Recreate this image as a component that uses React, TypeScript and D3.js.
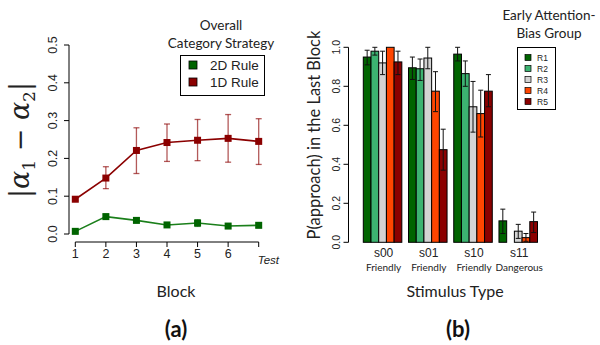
import React from "react";
import * as d3 from "d3";

const blocks = ["1", "2", "3", "4", "5", "6", "Test"];
const rule2D = [0.007, 0.046, 0.036, 0.024, 0.029, 0.021, 0.023];
const rule2DLo = [0.003, 0.04, 0.031, 0.019, 0.02, 0.016, 0.017];
const rule2DHi = [0.011, 0.052, 0.041, 0.029, 0.038, 0.026, 0.029];
const rule1D = [0.092, 0.148, 0.221, 0.242, 0.248, 0.253, 0.245];
const rule1DLo = [0.088, 0.12, 0.16, 0.192, 0.194, 0.19, 0.184];
const rule1DHi = [0.096, 0.178, 0.281, 0.291, 0.303, 0.316, 0.305];
const leftTicks = [0, 0.1, 0.2, 0.3, 0.4, 0.5];

const stimuli = ["s00", "s01", "s10", "s11"];
const stimLabels = ["Friendly", "Friendly", "Friendly", "Dangerous"];
const groups = ["R1", "R2", "R3", "R4", "R5"];
const groupColors = ["#006400", "#3cb371", "#d3d3d3", "#ff4500", "#8b0000"];
const pApproach = [
  [0.95, 0.98, 0.92, 1.0, 0.925],
  [0.895, 0.89, 0.945, 0.775, 0.475],
  [0.965, 0.865, 0.695, 0.66, 0.775],
  [0.11, 0.0, 0.057, 0.024, 0.106],
];
const pLo = [
  [0.91, 0.96, 0.86, 1.0, 0.86],
  [0.835, 0.83, 0.89, 0.67, 0.37],
  [0.93, 0.8, 0.565, 0.54, 0.695],
  [0.045, 0.0, 0.02, 0.005, 0.05],
];
const pHi = [
  [0.985, 1.0, 0.98, 1.0, 0.98],
  [0.95, 0.94, 1.0, 0.875, 0.58],
  [1.0, 0.93, 0.825, 0.78, 0.86],
  [0.17, 0.0, 0.092, 0.045, 0.155],
];
const rightTicks = [0, 0.2, 0.4, 0.6, 0.8, 1.0];

const GREEN_LINE = "#1a7f1a";
const GREEN_MARK = "#006400";
const RED = "#8b0000";
const TXT = "Lato, 'Open Sans', sans-serif";
const NUM = "'Liberation Sans', Arial, sans-serif";

export default function App() {
  // Left panel scales
  const xL = d3.scalePoint<string>().domain(blocks).range([75.3, 258.7]);
  const yL = d3.scaleLinear().domain([0, 0.5]).range([234, 45]);
  const line = d3
    .line<number>()
    .x((_, i) => xL(blocks[i]) as number)
    .y((d) => yL(d));

  // Right panel scales
  const xG = d3.scaleBand<string>().domain(stimuli).range([363.3, 537.5]).paddingInner(0.148);
  const xR = d3.scaleBand<string>().domain(groups).range([0, xG.bandwidth()]);
  const yR = d3.scaleLinear().domain([0, 1]).range([242.3, 47.3]);

  const series = [
    { v: rule1D, lo: rule1DLo, hi: rule1DHi, line: RED, mark: RED, err: "rgba(139,0,0,0.65)" },
    { v: rule2D, lo: rule2DLo, hi: rule2DHi, line: GREEN_LINE, mark: GREEN_MARK, err: "rgba(0,100,0,0.6)" },
  ];

  return (
    <svg width={600} height={345} style={{ display: "block", position: "absolute", left: 0, top: 0, background: "#fff" }}>
      {/* ===== Left panel ===== */}
      <line x1={69} x2={69} y1={yL(0)} y2={yL(0.5)} stroke="#000" strokeWidth={1} />
      {leftTicks.map((t) => (
        <g key={t}>
          <line x1={64} x2={69} y1={yL(t)} y2={yL(t)} stroke="#000" />
          <text
            transform={`translate(57,${yL(t)}) rotate(-90)`}
            textAnchor="middle"
            fontFamily={NUM}
            fontSize={12.5}
            fill="#222"
          >
            {t.toFixed(1)}
          </text>
        </g>
      ))}
      <line x1={xL("1")} x2={xL("Test")} y1={242} y2={242} stroke="#000" />
      {blocks.map((b) => (
        <g key={b}>
          <line x1={xL(b)} x2={xL(b)} y1={242} y2={247} stroke="#000" />
          {b !== "Test" && (
            <text x={xL(b)} y={258} textAnchor="middle" fontFamily={NUM} fontSize={12.5} fill="#222">
              {b}
            </text>
          )}
        </g>
      ))}
      <text x={(xL("Test") as number) - 1} y={264} fontFamily={NUM} fontSize={11.5} fontStyle="italic" fill="#222">
        Test
      </text>
      {series.map((s, si) => (
        <g key={si}>
          <path d={line(s.v) || ""} fill="none" stroke={s.line} strokeWidth={1.6} />
          {s.v.map((v, i) => {
            const x = xL(blocks[i]) as number;
            return (
              <g key={i}>
                <line x1={x} x2={x} y1={yL(s.lo[i])} y2={yL(s.hi[i])} stroke={s.err} strokeWidth={1.3} />
                <line x1={x - 3} x2={x + 3} y1={yL(s.lo[i])} y2={yL(s.lo[i])} stroke={s.err} strokeWidth={1.3} />
                <line x1={x - 3} x2={x + 3} y1={yL(s.hi[i])} y2={yL(s.hi[i])} stroke={s.err} strokeWidth={1.3} />
                <rect x={x - 3.5} y={yL(v) - 3.5} width={7} height={7} fill={s.mark} />
              </g>
            );
          })}
        </g>
      ))}
      <text x={221} y={30} textAnchor="middle" fontFamily={TXT} fontSize={13.5} fill="#222">
        Overall
      </text>
      <text x={221} y={48} textAnchor="middle" fontFamily={TXT} fontSize={13.5} fill="#222">
        Category Strategy
      </text>
      <rect x={180.5} y={55.5} width={84} height={40} fill="#fff" stroke="#000" strokeWidth={1} />
      <rect x={189} y={61} width={8} height={8} fill={GREEN_MARK} stroke="#000" strokeWidth={0.8} />
      <text x={210} y={70} fontFamily={NUM} fontSize={13.5} fill="#222">
        2D Rule
      </text>
      <rect x={189} y={78} width={8} height={8} fill={RED} stroke="#000" strokeWidth={0.8} />
      <text x={210} y={87} fontFamily={NUM} fontSize={13.5} fill="#222">
        1D Rule
      </text>
      <text
        transform="translate(29,140) rotate(-90)"
        textAnchor="middle"
        fontFamily="'DejaVu Serif', 'Liberation Serif', serif"
        fontSize={27}
        fill="#222"
      >
        <tspan>|</tspan>
        <tspan fontStyle="italic">α</tspan>
        <tspan fontSize={17} dy={6}>1</tspan>
        <tspan dy={-6}> − </tspan>
        <tspan fontStyle="italic">α</tspan>
        <tspan fontSize={17} dy={6}>2</tspan>
        <tspan dy={-6}>|</tspan>
      </text>
      <text x={176} y={297} textAnchor="middle" fontFamily={TXT} fontSize={16} fill="#222">
        Block
      </text>
      <text x={176} y={337} textAnchor="middle" fontFamily={TXT} fontSize={22} fontWeight="bold" fill="#111">
        (a)
      </text>

      {/* ===== Right panel ===== */}
      <line x1={348.5} x2={348.5} y1={yR(0)} y2={yR(1)} stroke="#000" />
      {rightTicks.map((t) => (
        <g key={t}>
          <line x1={343.5} x2={348.5} y1={yR(t)} y2={yR(t)} stroke="#000" />
          <text
            transform={`translate(340,${yR(t)}) rotate(-90)`}
            textAnchor="middle"
            fontFamily={NUM}
            fontSize={10.5}
            fill="#222"
          >
            {t.toFixed(1)}
          </text>
        </g>
      ))}
      {stimuli.map((s, si) => {
        const gx = xG(s) as number;
        return (
          <g key={s}>
            {groups.map((g, gi) => {
              const v = pApproach[si][gi];
              const bx = gx + (xR(g) as number);
              const w = xR.bandwidth();
              const cx = bx + w / 2;
              const lo = pLo[si][gi];
              const hi = pHi[si][gi];
              return (
                <g key={g}>
                  {v > 0 && (
                    <rect
                      x={bx}
                      y={yR(v)}
                      width={w}
                      height={yR(0) - yR(v)}
                      fill={groupColors[gi]}
                      stroke="#000"
                      strokeWidth={1}
                    />
                  )}
                  {hi > lo && (
                    <g stroke="#111" strokeWidth={1}>
                      <line x1={cx} x2={cx} y1={yR(lo)} y2={yR(hi)} />
                      <line x1={cx - 2.5} x2={cx + 2.5} y1={yR(lo)} y2={yR(lo)} />
                      <line x1={cx - 2.5} x2={cx + 2.5} y1={yR(hi)} y2={yR(hi)} />
                    </g>
                  )}
                </g>
              );
            })}
            <text x={gx + xG.bandwidth() / 2 + 1} y={257} textAnchor="middle" fontFamily={NUM} fontSize={12} fill="#222">
              {s}
            </text>
            <text x={gx + xG.bandwidth() / 2 + 1} y={271} textAnchor="middle" fontFamily={TXT} fontSize={10} fill="#222">
              {stimLabels[si]}
            </text>
          </g>
        );
      })}
      <text
        transform="translate(320,135) rotate(-90)"
        textAnchor="middle"
        fontFamily={TXT}
        fontSize={16.5}
        fill="#222"
      >
        P(approach) in the Last Block
      </text>
      <text x={455} y={297} textAnchor="middle" fontFamily={TXT} fontSize={16} fill="#222">
        Stimulus Type
      </text>
      <text x={458} y={337} textAnchor="middle" fontFamily={TXT} fontSize={22} fontWeight="bold" fill="#111">
        (b)
      </text>
      <text x={549} y={20} textAnchor="middle" fontFamily={TXT} fontSize={13.5} fill="#222">
        Early Attention-
      </text>
      <text x={549} y={38} textAnchor="middle" fontFamily={TXT} fontSize={13.5} fill="#222">
        Bias Group
      </text>
      <rect x={517.5} y={47.5} width={38} height={62} fill="#fff" stroke="#000" strokeWidth={1} />
      {groups.map((g, gi) => (
        <g key={g}>
          <rect x={525} y={54.5 + gi * 11} width={6} height={6} fill={groupColors[gi]} stroke="#000" strokeWidth={0.7} />
          <text x={537} y={61 + gi * 11} fontFamily={NUM} fontSize={8.5} fill="#222">
            {g}
          </text>
        </g>
      ))}
    </svg>
  );
}
